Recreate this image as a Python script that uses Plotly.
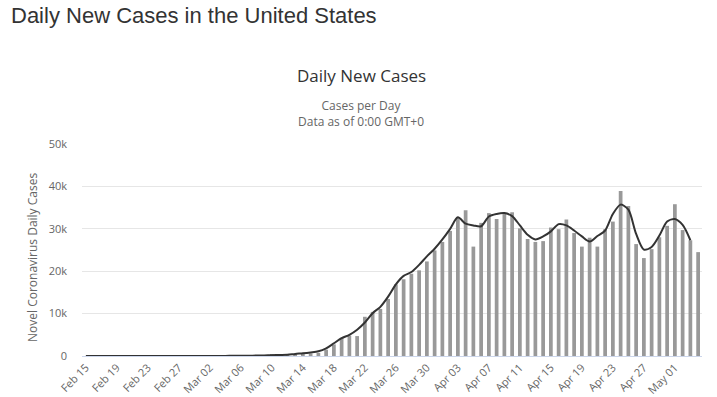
import pandas as pd
import plotly.graph_objects as go

dates = [d.strftime("%b %d") for d in pd.date_range("2020-02-15", periods=80, freq="D")]

daily_cases = [
    0, 0, 0, 0, 0, 0, 1, 0, 0, 0, 0, 0, 0, 0, 3,
    6, 20, 25, 30, 60, 55, 95, 110, 170, 240, 270, 330,
    350, 450, 600, 750, 1500, 2750, 4300, 4800, 4700, 9250, 10400, 11100,
    13450, 16900, 18100, 19400, 20200, 22300, 24900, 26900, 29500, 32700,
    34400, 25800, 31400, 33700, 32300, 33800, 33900, 30100, 27600, 26900,
    27100, 30300, 29900, 32200, 29000, 25800, 27900, 25800, 29900, 31700,
    38900, 35400, 26400, 23100, 25200, 28000, 30700, 35800, 29700, 27300,
    24500,
]

moving_avg = [
    0, 0, 0, 0, 0, 0, 0, 0, 0, 0, 0, 0, 0, 0, 2,
    5, 12, 20, 27, 40, 55, 75, 100, 140, 190, 250, 300,
    500, 650, 850, 1100, 1800, 3000, 4200, 5000, 6200, 7900, 10100, 11600,
    14000, 16900, 18900, 19800, 21500, 23500, 25300, 27500, 30000, 32700,
    31200, 30800, 30600, 32900, 33500, 33700, 33000, 30800, 28600, 27500,
    28200, 29400, 31100, 30800, 29600, 28200, 27000, 28300, 29600, 33500,
    35700, 34500, 28800, 25100, 25700, 28400, 31700, 32300, 30900, 27300,
]

y_ticks = [0, 10000, 20000, 30000, 40000, 50000]
y_tick_labels = ["0", "10k", "20k", "30k", "40k", "50k"]

FONT = "Open Sans, Liberation Sans, sans-serif"

fig = go.Figure()
fig.add_trace(go.Bar(
    x=dates, y=daily_cases, marker=dict(color="#999999", line=dict(width=0)),
    name="Daily Cases", hoverinfo="x+y",
))
fig.add_trace(go.Scatter(
    x=dates[:len(moving_avg)], y=moving_avg, mode="lines",
    line=dict(color="#333333", width=2, shape="spline", smoothing=0.8),
    name="Moving average",
))

W, H = 717, 397
L, R, T, B = 82, 15, 144, 41
pw, ph = W - L - R, H - T - B

def px_x(x):
    return (x - L) / pw

def px_y(y):
    return (H - B - y) / ph

fig.update_layout(
    width=W, height=H,
    margin=dict(l=L, r=R, t=T, b=B, pad=0, autoexpand=False),
    paper_bgcolor="white", plot_bgcolor="white",
    showlegend=False,
    bargap=0.52,
    font=dict(family=FONT, color="#666666", size=11),
    xaxis=dict(
        type="category", categoryorder="array", categoryarray=dates,
        range=[-0.5, len(dates) - 0.5], automargin=False,
        tickmode="array", tickvals=dates[::4], ticktext=dates[::4],
        tickangle=-45, tickfont=dict(size=11, color="#666666", family=FONT),
        showgrid=False, showline=True, linecolor="#ccd6eb", linewidth=1,
        ticks="", zeroline=False,
    ),
    yaxis=dict(
        range=[0, 50000], tickvals=y_ticks, ticktext=y_tick_labels,
        automargin=False,
        showgrid=True, gridcolor="#e6e6e6", gridwidth=1,
        zeroline=False, showline=False, ticks="",
        ticklabelstandoff=14,
        tickfont=dict(size=11, color="#666666", family=FONT),
    ),
    annotations=[
        dict(text="Daily New Cases in the United States", xref="paper", yref="paper",
             x=px_x(9), y=px_y(16), xanchor="left", yanchor="middle", showarrow=False,
             font=dict(family="Liberation Sans, Arial, sans-serif", size=22, color="#333333")),
        dict(text="Daily New Cases", xref="paper", yref="paper",
             x=px_x(361), y=px_y(75), xanchor="center", yanchor="middle", showarrow=False,
             font=dict(family=FONT, size=17, color="#333333")),
        dict(text="Cases per Day<br>Data as of 0:00 GMT+0", xref="paper", yref="paper",
             x=px_x(361), y=px_y(113.5), xanchor="center", yanchor="middle", showarrow=False,
             font=dict(family=FONT, size=12, color="#666666")),
        dict(text="Novel Coronavirus Daily Cases", xref="paper", yref="paper",
             x=px_x(32), y=px_y(258), xanchor="center", yanchor="middle", showarrow=False,
             textangle=-90, font=dict(family=FONT, size=12, color="#666666")),
    ],
)

fig.write_html(
    "out.html",
    config={"displayModeBar": False},
    post_script="document.body.style.margin='0';document.body.style.padding='0';document.body.style.overflow='hidden';",
)
